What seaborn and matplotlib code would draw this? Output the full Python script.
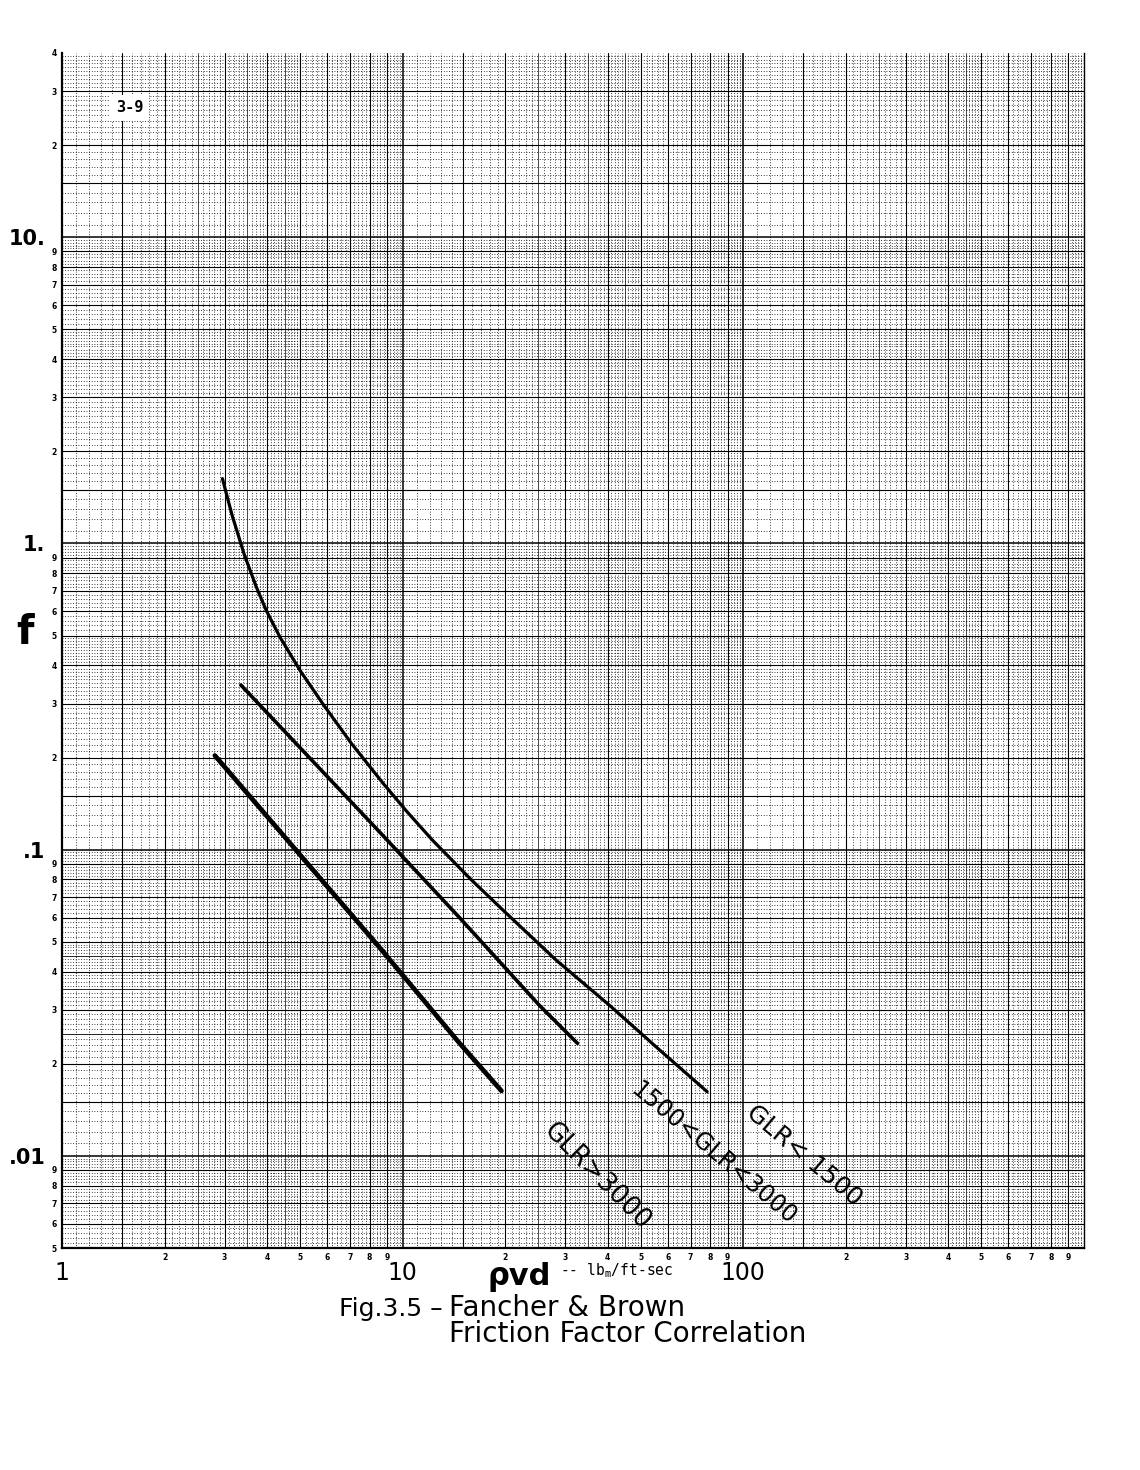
import numpy as np
import pandas as pd
import matplotlib
matplotlib.use("Agg")
import matplotlib.pyplot as plt
import seaborn as sns
from matplotlib.ticker import FixedLocator, FixedFormatter

# Fancher & Brown curves: rho*v*d (lbm/ft-sec) vs friction factor f
rvd_low = [2.958, 3.055, 3.162, 3.428, 3.715, 3.981, 4.365, 5.012, 5.834, 7.079, 8.75,
           10.3, 12.27, 15.85, 19.9, 28.2, 40.5, 56.2, 78.3]
f_low = [1.629, 1.419, 1.230, 0.920, 0.723, 0.603, 0.494, 0.383, 0.299, 0.222, 0.165,
         0.133, 0.107, 0.080, 0.0628, 0.0436, 0.031, 0.0224, 0.0162]

rvd_mid = [3.35, 8.57, 14.7, 25.2, 32.6]
f_mid = [0.345, 0.114, 0.0599, 0.031, 0.0233]

rvd_high = [2.81, 8.57, 14.7, 19.5]
f_high = [0.203, 0.0478, 0.0233, 0.0163]

curve_labels = ["GLR< 1500", "1500<GLR<3000", "GLR>3000"]

x_major = [1, 10, 100]
x_major_labels = ["1", "10", "100"]
y_major = [10, 1, 0.1, 0.01]
y_major_labels = ["10.", "1.", ".1", ".01"]

sns.set_style("white")
plt.rcParams["font.family"] = ["DejaVu Sans"]
plt.rcParams["text.color"] = "black"
plt.rcParams["xtick.color"] = "black"
plt.rcParams["ytick.color"] = "black"

fig = plt.figure(figsize=(11.4, 14.7), dpi=100)
W, H = 1140, 1470
ax = fig.add_axes([62 / W, 1 - 1248 / H, (1084 - 62) / W, (1248 - 53) / H])
ax.set_xscale("log")
ax.set_yscale("log")
ax.set_xlim(1, 1000)
ax.set_ylim(0.005, 40)


# log graph paper
def paper(lo, hi, dense_below=None):
    heavy, mid, thin, dots = [], [], [], []
    for e in range(int(np.floor(np.log10(lo))), int(np.ceil(np.log10(hi)))):
        b = 10.0 ** e
        for m in np.round(np.arange(1.0, 10.0, 0.1), 2):
            v = m * b
            if v <= lo * 1.0001 or v >= hi * 0.9999:
                continue
            if m == 1:
                heavy.append(v)
            elif m == int(m) or m == 1.5:
                mid.append(v)
            elif m in (2.5, 3.5, 4.5) and (dense_below is None or v < dense_below):
                thin.append(v)
            elif m < 5 or round(m * 10) % 2 == 0:
                dots.append(v)
    return heavy, mid, thin, dots


xh, xm, xt, xd = paper(1, 1000)
yh, ym, yt, yd = paper(0.005, 40, dense_below=0.1)
dotted = (0, (1, 2.2))
for vals, lw, ls in [(xh, 1.1, "-"), (xm, 0.8, "-"), (xt, 0.5, "-"), (xd, 0.6, dotted)]:
    for v in vals:
        ax.axvline(v, color="black", lw=lw, ls=ls, zorder=0)
for vals, lw, ls in [(yh, 1.1, "-"), (ym, 0.8, "-"), (yt, 0.6, "-"), (yd, 0.6, dotted)]:
    for v in vals:
        ax.axhline(v, color="black", lw=lw, ls=ls, zorder=0)

# curves
sns.lineplot(x=rvd_low, y=f_low, ax=ax, color="black", lw=2.3, sort=False, estimator=None, zorder=3)
sns.lineplot(x=rvd_mid, y=f_mid, ax=ax, color="black", lw=2.6, sort=False, estimator=None, zorder=3)
sns.lineplot(x=rvd_high, y=f_high, ax=ax, color="black", lw=3.4, sort=False, estimator=None, zorder=3)

# curve labels
ax.text(151, 0.0100, curve_labels[0], rotation=-40, rotation_mode="anchor",
        ha="center", va="center", fontsize=18, zorder=4)
ax.text(81.7, 0.0102, curve_labels[1], rotation=-40, rotation_mode="anchor",
        ha="center", va="center", fontsize=17, zorder=4)
ax.text(37.1, 0.00853, curve_labels[2], rotation=-45, rotation_mode="anchor",
        ha="center", va="center", fontsize=18.5, zorder=4)

ax.text(1.58, 26.5, "3-9", ha="center", va="center", fontsize=11, fontweight="bold",
        family="DejaVu Sans Mono", zorder=4,
        bbox=dict(facecolor="white", edgecolor="none", pad=4))

# ticks
for s in ["left", "bottom"]:
    ax.spines[s].set_linewidth(1.6)
    ax.spines[s].set_color("black")
ax.spines["right"].set_linewidth(1.0)
ax.spines["right"].set_color("black")
ax.spines["top"].set_visible(False)

ax.xaxis.set_major_locator(FixedLocator(x_major))
ax.xaxis.set_major_formatter(FixedFormatter(x_major_labels))
x_minor = [m * b for b in x_major for m in range(2, 10)]
ax.xaxis.set_minor_locator(FixedLocator(x_minor))
ax.xaxis.set_minor_formatter(FixedFormatter([str(m) for b in x_major for m in range(2, 10)]))

ax.yaxis.set_major_locator(FixedLocator(y_major))
ax.yaxis.set_major_formatter(FixedFormatter(y_major_labels))
y_minor_mult = [(m, 10.0 ** e) for e in range(-3, 2) for m in range(2, 10)]
y_minor_mult = [(m, b) for m, b in y_minor_mult if 0.005 <= m * b <= 40]
ax.yaxis.set_minor_locator(FixedLocator([m * b for m, b in y_minor_mult]))
ax.yaxis.set_minor_formatter(FixedFormatter([str(m) for m, b in y_minor_mult]))

ax.tick_params(axis="x", which="major", direction="out", length=3, width=1, pad=6, labelsize=17)
ax.tick_params(axis="x", which="minor", direction="out", length=2, width=1, pad=1.5, labelsize=5.5)
ax.tick_params(axis="y", which="major", direction="out", length=3, width=1, pad=9, labelsize=15)
ax.tick_params(axis="y", which="minor", direction="out", length=2, width=1, pad=2, labelsize=5.5)
ax.tick_params(which="both", colors="black")
for t in ax.get_yticklabels():
    t.set_fontweight("bold")
    t.set_family(["Liberation Sans Narrow", "DejaVu Sans"])
for t in ax.get_yticklabels(minor=True) + ax.get_xticklabels(minor=True):
    t.set_fontweight("bold")
ax.set_xlabel("")
ax.set_ylabel("")

# axis titles and caption
fig.text(25 / W, 1 - 633 / H, "f", fontsize=29, fontweight="bold", ha="center", va="center")
fig.text(487 / W, 1 - 1262 / H, "\u03c1vd", fontsize=22, fontweight="bold", ha="left", va="top")
fig.text(560 / W, 1 - 1271 / H, "-- lb$_\\mathregular{m}$/ft-sec", fontsize=10.5,
         family="DejaVu Sans Mono", ha="left", va="center")
fig.text(443 / W, 1 - 1309 / H, "Fig.3.5 \u2013", fontsize=18, ha="right", va="center")
fig.text(449 / W, 1 - 1294 / H, "Fancher & Brown\nFriction Factor Correlation",
         fontsize=20, ha="left", va="top", linespacing=0.92)

fig.savefig("out.png", dpi=100)
